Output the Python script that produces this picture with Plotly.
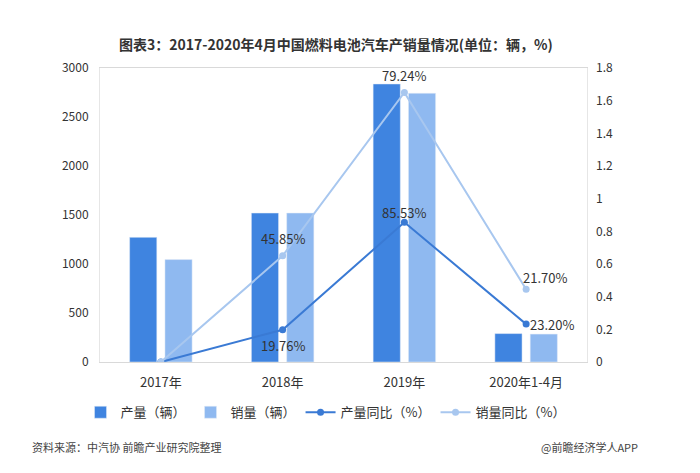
import plotly.graph_objects as go

categories = ["2017年", "2018年", "2019年", "2020年1-4月"]
production = [1272, 1520, 2837, 290]
sales = [1045, 1520, 2742, 285]
prod_yoy = [0.0, 0.1976, 0.8553, 0.232]
sales_yoy = [0.0, 0.65, 1.65, 0.445]
prod_labels = ["", "19.76%", "85.53%", "23.20%"]
sales_labels = ["", "45.85%", "79.24%", "21.70%"]

dark = "#3f84e0"
light = "#8fb9f0"
line_dark = "#3a7ad4"
line_light = "#a8c7ef"
font_cn = "Noto Sans CJK SC"

fig = go.Figure()
fig.add_trace(go.Bar(x=categories, y=production, name="产量（辆）", marker_color=dark))
fig.add_trace(go.Bar(x=categories, y=sales, name="销量（辆）", marker_color=light))
fig.add_trace(go.Scatter(x=categories, y=prod_yoy, name="产量同比（%）", yaxis="y2",
                         mode="lines+markers", line=dict(color=line_dark, width=2),
                         marker=dict(size=7, color=line_dark)))
fig.add_trace(go.Scatter(x=categories, y=sales_yoy, name="销量同比（%）", yaxis="y2",
                         mode="lines+markers", line=dict(color=line_light, width=2),
                         marker=dict(size=7, color=line_light)))

ann = []
prod_shift = [(0, 0), (0, -16), (0, 10), (26, 0)]
sales_shift = [(0, 0), (0, 17), (0, 17), (19, 12)]
for i, c in enumerate(categories):
    if prod_labels[i]:
        xs, ys = prod_shift[i]
        ann.append(dict(x=i, y=prod_yoy[i], xref="x", yref="y2", text=prod_labels[i],
                        showarrow=False, xshift=xs, yshift=ys,
                        font=dict(family=font_cn, size=13, color="#333333")))
    if sales_labels[i]:
        xs, ys = sales_shift[i]
        ann.append(dict(x=i, y=sales_yoy[i], xref="x", yref="y2", text=sales_labels[i],
                        showarrow=False, xshift=xs, yshift=ys,
                        font=dict(family=font_cn, size=13, color="#333333")))

ann.append(dict(x=0.5, y=1, xref="paper", yref="paper", yshift=36, xshift=-8,
                text="<b>图表3：2017-2020年4月中国燃料电池汽车产销量情况(单位：辆，%)</b>",
                showarrow=False, font=dict(family=font_cn, size=14, color="#333333")))
ann.append(dict(x=-70 / 487, y=(362 - 447) / 294, xref="paper", yref="paper",
                text="资料来源：中汽协 前瞻产业研究院整理",
                showarrow=False, xanchor="left", yanchor="middle",
                font=dict(family=font_cn, size=11, color="#444444")))
ann.append(dict(x=(640 - 100) / 487, y=(362 - 447) / 294, xref="paper", yref="paper",
                text="@前瞻经济学人APP", showarrow=False, xanchor="right", yanchor="middle",
                font=dict(family=font_cn, size=11, color="#444444")))

fig.update_layout(
    width=700, height=473,
    margin=dict(l=100, r=113, t=68, b=111),
    paper_bgcolor="white", plot_bgcolor="white",
    barmode="group", bargap=0.42, bargroupgap=0.23,
    font=dict(family=font_cn, size=12, color="#333333"),
    xaxis=dict(showgrid=False, showline=True, linecolor="#d9d9d9", ticks="",
               tickfont=dict(size=13, color="#333333"), mirror=True, ticklabelstandoff=8),
    yaxis=dict(range=[0, 3000], dtick=500, showgrid=False, showline=True,
               linecolor="#e6e6e6", mirror=True, zeroline=False,
               tickfont=dict(size=12, color="#333333"), ticklabelstandoff=8),
    yaxis2=dict(range=[0, 1.8], dtick=0.2, overlaying="y", side="right", showgrid=False,
                zeroline=False, showline=False, tickfont=dict(size=12, color="#333333"),
                ticklabelstandoff=8),
    legend=dict(orientation="h", x=-0.04, y=-0.12, xanchor="left", yanchor="top",
                font=dict(size=13, color="#333333"), itemwidth=30, traceorder="normal"),
    showlegend=True,
    annotations=ann,
)

fig.write_html("out.html")
